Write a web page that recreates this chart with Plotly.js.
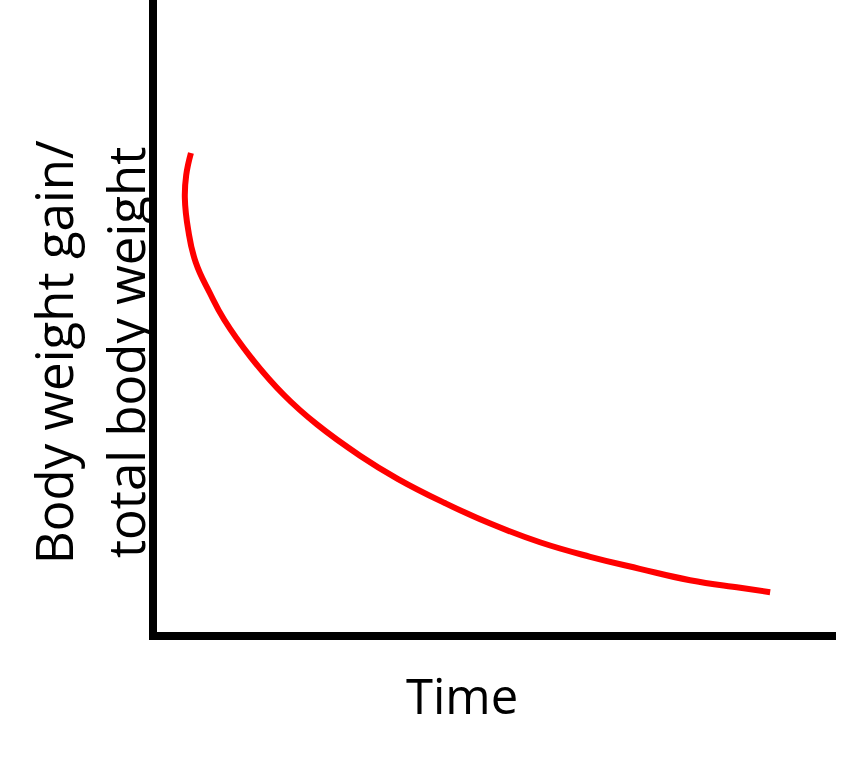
<!DOCTYPE html>
<html>
<head>
<meta charset="utf-8">
<script src="https://cdn.plot.ly/plotly-3.0.1.min.js"></script>
<style>
  html, body { margin: 0; padding: 0; background: #fff; }
  #chart { width: 842px; height: 762px; }
</style>
</head>
<body>
<div id="chart"></div>
<script>
// curve, axis units 0..100 (no ticks shown)
let time_vals = [5.0, 4.3, 4.1, 4.6, 5.7, 7.8, 9.9, 13.8, 18.7, 23.6, 29.9, 35.5,
    42.4, 49.0, 56.4, 63.8, 71.1, 78.5, 85.9, 90.3];
let ratio_vals = [75.8, 72.3, 68.7, 63.6, 58.5, 53.6, 49.4, 43.5, 37.5, 32.8, 27.9, 24.2,
    20.4, 17.2, 14.2, 11.9, 10.0, 8.2, 7.0, 6.3];
let x_label = "Time";
let y_label_lines = ["Body weight gain/", "total body weight"];

let font_family = "'Open Sans', 'Liberation Sans', sans-serif";

let trace = {
    x: time_vals,
    y: ratio_vals,
    type: "scatter",
    mode: "lines",
    line: { color: "#ff0000", width: 6, shape: "spline", smoothing: 1.3 },
    hoverinfo: "skip",
    showlegend: false
};

function bareAxis() {
    return {
        range: [0, 100],
        showline: true,
        linecolor: "#000000",
        linewidth: 8,
        showgrid: false,
        zeroline: false,
        showticklabels: false,
        ticks: "",
        fixedrange: true
    };
}

let layout = {
    width: 842,
    height: 762,
    margin: { l: 157, r: 6, t: 0, b: 130, pad: 0 },
    paper_bgcolor: "#ffffff",
    plot_bgcolor: "#ffffff",
    xaxis: bareAxis(),
    yaxis: bareAxis(),
    font: { family: font_family, color: "#000000" },
    annotations: [
        {
            text: x_label, xref: "paper", yref: "paper",
            x: 0.449, y: -0.1, xanchor: "center", yanchor: "middle",
            showarrow: false, font: { size: 49, family: font_family, color: "#000" }
        },
        {
            text: y_label_lines[0], xref: "paper", yref: "paper",
            x: -0.153, y: 0.443, xanchor: "center", yanchor: "middle", textangle: -90,
            showarrow: false, font: { size: 51, family: font_family, color: "#000" }
        },
        {
            text: y_label_lines[1], xref: "paper", yref: "paper",
            x: -0.047, y: 0.443, xanchor: "center", yanchor: "middle", textangle: -90,
            showarrow: false, font: { size: 51, family: font_family, color: "#000" }
        }
    ]
};

Plotly.newPlot("chart", [trace], layout, { staticPlot: true, displayModeBar: false });
</script>
</body>
</html>
